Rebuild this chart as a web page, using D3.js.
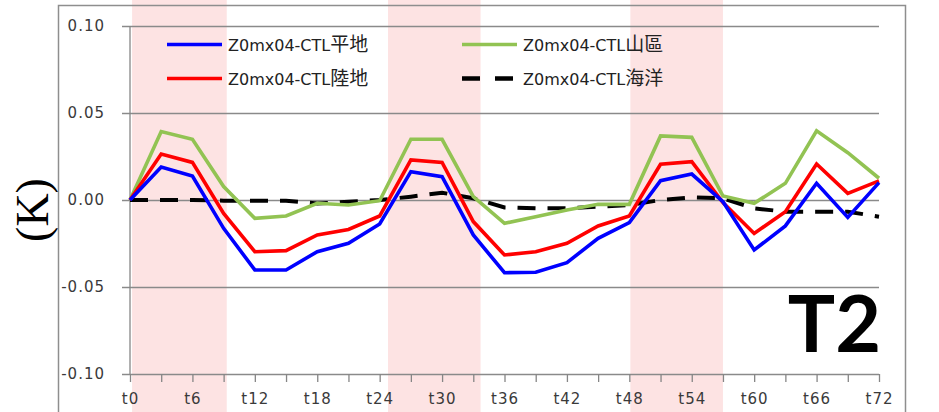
<!DOCTYPE html>
<html lang="zh-Hant">
<head>
<meta charset="utf-8">
<script src="https://cdn.jsdelivr.net/npm/d3@7"></script>
<style>
  body { margin: 0; background: #fff; }
  svg { display: block; }
  .tick text { font-family: "DejaVu Sans", Verdana, sans-serif; font-size: 15px; fill: #3a3a3a; letter-spacing: 1px; }
</style>
</head>
<body>
<svg id="chart"></svg>
<script>
// hours (t0 .. t72, every 3 h)
var hours = d3.range(0, 73, 3);

var seriesNames = ['Z0mx04-CTL平地', 'Z0mx04-CTL陸地', 'Z0mx04-CTL山區', 'Z0mx04-CTL海洋'];

var flatVals = [0, 0.019, 0.0138, -0.0163, -0.0402, -0.0402, -0.0297, -0.0249, -0.0138, 0.0163, 0.0134, -0.0201,
  -0.0418, -0.0415, -0.036, -0.022, -0.013, 0.0111, 0.0149, -0.001, -0.0287, -0.0149, 0.0096, -0.010, 0.010];
var landVals = [0, 0.0264, 0.0216, -0.0077, -0.0297, -0.0291, -0.0201, -0.0169, -0.0092, 0.023, 0.0216, -0.0124,
  -0.0316, -0.0297, -0.0249, -0.0149, -0.0092, 0.0205, 0.022, -0.0015, -0.0192, -0.0067, 0.0207, 0.0038, 0.011];
var mountainVals = [0, 0.0393, 0.0349, 0.0077, -0.0105, -0.0092, -0.0019, -0.0029, -0.0004, 0.0349, 0.0349, 0.002,
  -0.0134, -0.0096, -0.0057, -0.0025, -0.0025, 0.0368, 0.036, 0.0023, -0.0019, 0.0096, 0.0398, 0.0272, 0.0125];
var oceanVals = [0, 0, 0, -0.0004, -0.0004, -0.0005, -0.002, -0.001, 0, 0.0019, 0.0042, 0.001,
  -0.0043, -0.0048, -0.0048, -0.0038, -0.0029, 0, 0.0015, 0.001, -0.0048, -0.0067, -0.0067, -0.0067, -0.0096];

// shaded periods (hours)
var bands = [[0.2, 9.3], [24.8, 33.7], [48.1, 57.0]];

var yTicks = [-0.10, -0.05, 0, 0.05, 0.10];

var svgW = 939, svgH = 412;
var svg = d3.select('#chart').attr('width', svgW).attr('height', svgH);

var x = d3.scaleLinear().domain([0, 72]).range([130, 879]);
var y = d3.scaleLinear().domain([-0.1, 0.1]).range([374, 26]);

// pink bands
svg.selectAll('.band').data(bands).enter().append('rect')
  .attr('x', function(d){ return x(d[0]); })
  .attr('width', function(d){ return x(d[1]) - x(d[0]); })
  .attr('y', 0).attr('height', svgH)
  .attr('fill', '#fde3e3');

// outer frame
svg.append('rect')
  .attr('x', 58.5).attr('y', 5.5).attr('width', 847).attr('height', 430)
  .attr('fill', 'none').attr('stroke', '#8e8e8e').attr('stroke-width', 1.5);

// y axis with gridlines
var yAxis = d3.axisLeft(y).tickValues(yTicks)
  .tickSize(-(879 - 122)).tickPadding(17)
  .tickFormat(function(d){ return d.toFixed(2); });
var gy = svg.append('g').attr('transform', 'translate(122,0)').call(yAxis);
gy.select('.domain').remove();
gy.selectAll('.tick line').attr('stroke', '#8a8a8a').attr('stroke-width', 1.3);

// y axis line
svg.append('line').attr('x1', 130).attr('x2', 130).attr('y1', y(0.1)).attr('y2', y(-0.1))
  .attr('stroke', '#868686').attr('stroke-width', 1.3);

// x axis
var xAxis = d3.axisBottom(x).tickValues(hours).tickSizeInner(8).tickSizeOuter(0).tickPadding(11)
  .tickFormat(function(d){ return d % 6 === 0 ? 't' + d : ''; });
var gx = svg.append('g').attr('transform', 'translate(0,' + y(-0.1) + ')').call(xAxis);
gx.select('.domain').remove();
gx.selectAll('.tick line').attr('stroke', '#868686').attr('stroke-width', 1.3);

// y label
svg.append('text')
  .attr('transform', 'translate(48,210) rotate(-90)')
  .attr('text-anchor', 'middle')
  .attr('font-family', '"Liberation Serif", "Times New Roman", serif')
  .attr('font-size', 46)
  .attr('fill', '#000')
  .text('(K)');

// series
var series = [
  { name: seriesNames[0], vals: flatVals, color: '#0000ff', dash: null },
  { name: seriesNames[1], vals: landVals, color: '#ff0000', dash: null },
  { name: seriesNames[2], vals: mountainVals, color: '#92c353', dash: null },
  { name: seriesNames[3], vals: oceanVals, color: '#000000', dash: '18,12' }
];

var line = d3.line()
  .x(function(d, i){ return x(hours[i]); })
  .y(function(d){ return y(d); });

// draw order: ocean, mountain, land, flat
[3, 2, 1, 0].forEach(function(k){
  var s = series[k];
  svg.append('path')
    .attr('d', line(s.vals))
    .attr('fill', 'none')
    .attr('stroke', s.color)
    .attr('stroke-width', s.dash ? 4 : 3.6)
    .attr('stroke-linejoin', 'miter')
    .attr('stroke-dasharray', s.dash);
});

// legend
var legendPos = [
  { lx: 167, ly: 44.5 },
  { lx: 167, ly: 78.5 },
  { lx: 462, ly: 44.5 },
  { lx: 462, ly: 78.5 }
];
series.forEach(function(s, i){
  var p = legendPos[i];
  svg.append('line')
    .attr('x1', p.lx).attr('x2', p.lx + 55)
    .attr('y1', p.ly).attr('y2', p.ly)
    .attr('stroke', s.color)
    .attr('stroke-width', s.dash ? 4.5 : 3.6)
    .attr('stroke-dasharray', s.dash ? '18,15' : null);
  var m = s.name.match(/^([\x00-\x7f]+)(.*)$/);
  var t = svg.append('text')
    .attr('x', p.lx + 61).attr('y', p.ly + 6)
    .attr('font-family', '"DejaVu Sans", Verdana, sans-serif')
    .attr('font-size', 16)
    .attr('fill', '#222');
  t.append('tspan').text(m[1]);
  t.append('tspan')
    .attr('font-family', '"Noto Sans CJK TC", sans-serif')
    .attr('font-size', 19)
    .text(m[2]);
});

// panel label
svg.append('text')
  .attr('x', 881).attr('y', 352)
  .attr('text-anchor', 'end')
  .attr('font-family', 'Lato, "Open Sans", sans-serif')
  .attr('font-weight', 'bold')
  .attr('font-size', 79)
  .attr('fill', '#000')
  .text('T2');
</script>
</body>
</html>
